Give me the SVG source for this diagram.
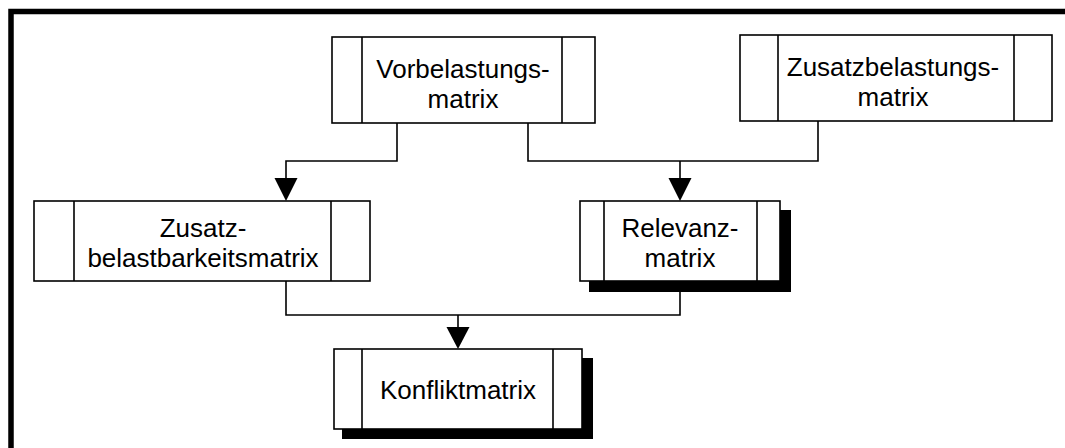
<svg xmlns="http://www.w3.org/2000/svg" width="1065" height="448" viewBox="0 0 1065 448">
<defs>
<style>
.box{fill:#fff;stroke:#000;stroke-width:1.6}
.div{stroke:#000;stroke-width:1.6;fill:none}
.sh{fill:#000}
.t{font-family:"Liberation Sans",Arial,sans-serif;font-size:26px;fill:#000;text-anchor:middle}
.c{fill:none;stroke:#000;stroke-width:1.6}
.ah{fill:#000}
</style>
</defs>
<rect width="1065" height="448" fill="#fff"/>
<path d="M11 448 V11.5 H1065" fill="none" stroke="#000" stroke-width="5.5"/>
<g id="connectors">
<path class="c" d="M397 123 V161 H286 V180"/>
<path class="c" d="M528 123 V161 H818 V121"/>
<path class="c" d="M680 161 V180"/>
<path class="c" d="M286 281 V315 H680 V281"/>
<path class="c" d="M458 315 V328"/>
<polygon class="ah" points="274.5,178 297.5,178 286,201"/>
<polygon class="ah" points="668.5,178 691.5,178 680,201"/>
<polygon class="ah" points="446.5,327 469.5,327 458,349"/>
</g>
<g id="vorbelastungsmatrix">
<rect class="box" x="332" y="37" width="263" height="86"/>
<path class="div" d="M362 37 V123 M562 37 V123"/>
<text class="t" x="463" y="78">Vorbelastungs-</text>
<text class="t" x="463" y="108">matrix</text>
</g>
<g id="zusatzbelastungsmatrix">
<rect class="box" x="740" y="35" width="312" height="86"/>
<path class="div" d="M778 35 V121 M1014 35 V121"/>
<text class="t" x="893" y="76">Zusatzbelastungs-</text>
<text class="t" x="893" y="106">matrix</text>
</g>
<g id="zusatzbelastbarkeitsmatrix">
<rect class="box" x="34" y="201" width="336" height="80"/>
<path class="div" d="M74 201 V281 M331 201 V281"/>
<text class="t" x="203" y="237">Zusatz-</text>
<text class="t" x="203" y="267">belastbarkeitsmatrix</text>
</g>
<g id="relevanzmatrix">
<rect class="sh" x="589" y="210" width="202" height="82"/>
<rect class="box" x="580" y="201" width="200" height="80"/>
<path class="div" d="M604 201 V281 M757 201 V281"/>
<text class="t" x="680" y="237">Relevanz-</text>
<text class="t" x="680" y="267">matrix</text>
</g>
<g id="konfliktmatrix">
<rect class="sh" x="342" y="358" width="251" height="81"/>
<rect class="box" x="334" y="349" width="248" height="80"/>
<path class="div" d="M362 349 V429 M553 349 V429"/>
<text class="t" x="458" y="399">Konfliktmatrix</text>
</g>
</svg>
